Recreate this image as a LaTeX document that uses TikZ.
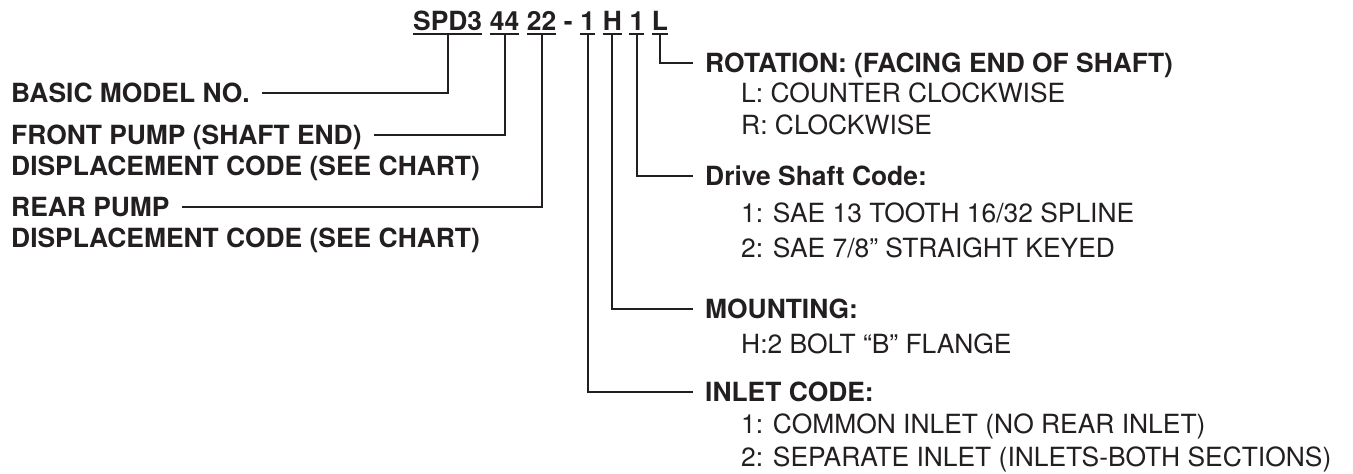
\documentclass[tikz,border=0pt]{standalone}
\usepackage{fontspec}
\setmainfont{TeX Gyre Heros}
\definecolor{ink}{HTML}{231F20}
\begin{document}
\begin{tikzpicture}[x=1pt,y=-1pt,
  lbl/.style={anchor=base west, inner sep=0pt, text=ink, font=\fontsize{26.4}{30}\selectfont\bfseries},
  sub/.style={anchor=base west, inner sep=0pt, text=ink, font=\fontsize{26.4}{30}\selectfont},
  conn/.style={draw=ink, line width=2pt, line join=miter}]
\useasboundingbox (0,0) rectangle (1353,474);
% title code
\node[lbl] (t1) at (413,30) {SPD3};
\node[lbl] (t2) at ([xshift=7.3pt]t1.base east) {44};
\node[lbl] (t3) at ([xshift=7.3pt]t2.base east) {22};
\node[lbl] (td) at ([xshift=7.3pt]t3.base east) {-};
\node[lbl] (t4) at ([xshift=7.3pt]td.base east) {1};
\node[lbl] (t5) at ([xshift=7.3pt]t4.base east) {H};
\node[lbl] (t6) at ([xshift=7.3pt]t5.base east) {1};
\node[lbl] (t7) at ([xshift=7.3pt]t6.base east) {L};
\foreach \n in {t1,t2,t3,t4,t5,t6,t7}
  \draw[conn] ([yshift=-3.5pt]\n.base west) -- ([yshift=-3.5pt]\n.base east);
% left labels
\node[lbl] (basic) at (11,102) {BASIC MODEL NO.};
\node[lbl] (front) at (11,144) {FRONT PUMP (SHAFT END)};
\node[lbl] (front2) at (11,175) {DISPLACEMENT CODE (SEE CHART)};
\node[lbl] (rear) at (11,216) {REAR PUMP};
\node[lbl] (rear2) at (11,247) {DISPLACEMENT CODE (SEE CHART)};
% right labels
\node[lbl] (rot) at (705,72) {ROTATION: (FACING END OF SHAFT)};
\node[sub] (rotL) at (741,102) {L: COUNTER CLOCKWISE};
\node[sub] (rotR) at (741,134) {R: CLOCKWISE};
\node[lbl] (drv) at (705,185) {Drive Shaft Code:};
\node[sub] (drv1) at (741,222) {1: SAE 13 TOOTH 16/32 SPLINE};
\node[sub] (drv2) at (741,257) {2: SAE 7/8” STRAIGHT KEYED};
\node[lbl] (mnt) at (705,318) {MOUNTING:};
\node[sub] (mntH) at (741,353) {H:2 BOLT “B” FLANGE};
\node[lbl] (inl) at (705,401) {INLET CODE:};
\node[sub] (inl1) at (741,433) {1: COMMON INLET (NO REAR INLET)};
\node[sub] (inl2) at (741,466) {2: SEPARATE INLET (INLETS-BOTH SECTIONS)};
% connectors
\draw[conn] ([yshift=-3.5pt]t1.base) |- ([shift={(12pt,9.5pt)}]basic.base east);
\draw[conn] ([yshift=-3.5pt]t2.base) |- ([shift={(12pt,9.5pt)}]front.base east);
\draw[conn] ([yshift=-3.5pt]t3.base) |- ([shift={(12pt,9.5pt)}]rear.base east);
\draw[conn] ([yshift=-3.5pt]t4.base) |- ([shift={(-12pt,9.5pt)}]inl.base west);
\draw[conn] ([yshift=-3.5pt]t5.base) |- ([shift={(-12pt,9.5pt)}]mnt.base west);
\draw[conn] ([yshift=-3.5pt]t6.base) |- ([shift={(-12pt,9.5pt)}]drv.base west);
\draw[conn] ([yshift=-3.5pt]t7.base) |- ([shift={(-12pt,9.5pt)}]rot.base west);
\end{tikzpicture}
\end{document}
